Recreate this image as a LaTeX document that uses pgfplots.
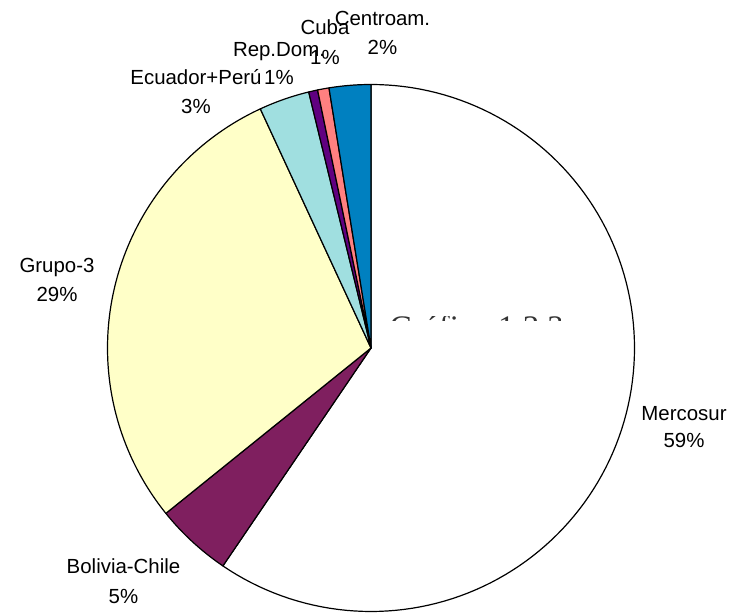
\documentclass[border=0pt]{standalone}
\usepackage{fontspec}
\setmainfont{Liberation Sans}
\newfontfamily\ghostfont{Liberation Serif}
\usepackage{pgfplots}
\usepackage{pgfplotstable}
\pgfplotsset{compat=1.18}

\definecolor{slice0}{HTML}{FFFFFF}
\definecolor{slice1}{HTML}{7F1F5F}
\definecolor{slice2}{HTML}{FFFFC8}
\definecolor{slice3}{HTML}{A0DFE0}
\definecolor{slice4}{HTML}{600080}
\definecolor{slice5}{HTML}{FF8080}
\definecolor{slice6}{HTML}{0080C0}

% shares in percent, clockwise from 12 o'clock
\pgfplotstableread[col sep=comma]{
name,share
Mercosur,59.5
Bolivia-Chile,4.7
Grupo-3,28.9
Ecuador+Perú,3.1
Rep.Dom.,0.55
Cuba,0.7
Centroam.,2.55
}\piedata

% start / end angle of each slice
\def\cum{0}%
\pgfplotsforeachungrouped \i in {0,...,6}{%
  \pgfplotstablegetelem{\i}{share}\of\piedata%
  \pgfmathsetmacro\angA{90-3.6*\cum}%
  \pgfmathsetmacro\cum{\cum+\pgfplotsretval}%
  \pgfmathsetmacro\angB{90-3.6*\cum}%
  \expandafter\let\csname angA\i\endcsname\angA%
  \expandafter\let\csname angB\i\endcsname\angB%
}%

\tikzset{lbl/.style={font=\fontsize{20.5}{29}\selectfont, anchor=base, inner sep=0pt}}

\begin{document}
\begin{tikzpicture}
\begin{axis}[
    scale only axis,
    width=736bp, height=614bp,
    xmin=0, xmax=736, ymin=0, ymax=614,
    hide axis, clip=false,
  ]
  \draw[draw=none] (rel axis cs:0,0) rectangle (rel axis cs:1,1);
  \pgfplotsinvokeforeach{0,...,6}{
    \addplot[draw=black, line width=1.2bp, line join=round, fill=slice#1,
      domain={\csname angB#1\endcsname}:{\csname angA#1\endcsname},
      samples=120, variable=\t]
      ({371+263.5*cos(\t)}, {266+263.5*sin(\t)}) -- (axis cs:371,266) -- cycle;
  }
  % hidden title, only the top of it shows
  \begin{scope}
    \clip (axis cs:380,293) rectangle (axis cs:560,297.5);
    \node[font=\ghostfont\fontsize{33}{33}\selectfont, anchor=base west, text=black!80]
      at (axis cs:386,275.5) {Gráfico 1.3.3};
  \end{scope}
  % labels
  \node[lbl] at (axis cs:684,193.3) {Mercosur};
  \node[lbl] at (axis cs:684,166) {59\%};
  \node[lbl] at (axis cs:123.5,40.7) {Bolivia-Chile};
  \node[lbl] at (axis cs:123.5,11) {5\%};
  \node[lbl] at (axis cs:57,341) {Grupo-3};
  \node[lbl] at (axis cs:57,312) {29\%};
  \node[lbl] at (axis cs:196,529) {Ecuador+Perú};
  \node[lbl] at (axis cs:196,500) {3\%};
  \node[lbl] at (axis cs:279,557) {Rep.Dom.};
  \node[lbl] at (axis cs:279,529) {1\%};
  \node[lbl] at (axis cs:325,579) {Cuba};
  \node[lbl] at (axis cs:325,549) {1\%};
  \node[lbl] at (axis cs:382.5,588) {Centroam.};
  \node[lbl] at (axis cs:382.5,559) {2\%};
\end{axis}
\end{tikzpicture}
\end{document}
